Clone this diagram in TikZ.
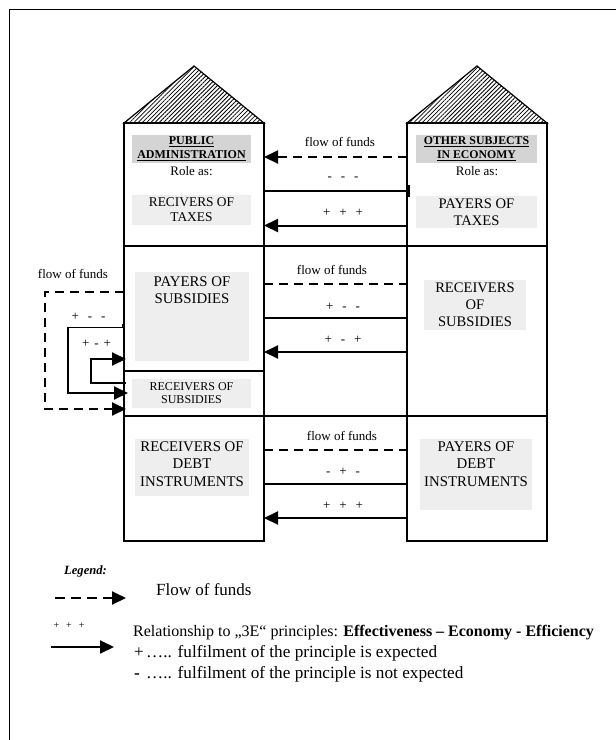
\documentclass[tikz,border=0pt]{standalone}
\usepackage{fontspec}
\setmainfont{Liberation Serif}
\usetikzlibrary{arrows.meta,patterns.meta}
\definecolor{hdr}{HTML}{D4D4D4}
\definecolor{lgt}{HTML}{EEEEEE}
\newcommand{\sgn}[3]{#1\hspace{9pt}#2\hspace{9pt}#3}
\newcommand{\sgs}[3]{#1\hspace{5pt}#2\hspace{5pt}#3}
\begin{document}
\begin{tikzpicture}[x=1pt,y=-1pt,
  wall/.style={line width=1.3pt},
  bld/.style={draw, line width=1.3pt, minimum width=140pt, minimum height=418pt, anchor=north west, inner sep=0pt, outer sep=0pt},
  roof/.style={draw, line width=1.2pt, line join=miter, pattern={Lines[angle=45,distance=3pt,line width=0.8pt]}},
  flowline/.style={line width=2pt, dash pattern=on 9pt off 6pt},
  legflow/.style={line width=2pt, dash pattern=on 10pt off 6pt},
  relline/.style={line width=2pt},
  tipl/.style={-{Triangle[length=14pt,width=13pt]}},
  shadebox/.style={fill=lgt, draw=none, inner sep=0pt},
  hdrbox/.style={fill=hdr, draw=none, inner sep=0pt},
  lbl/.style={inner sep=0pt, align=center},
]
\useasboundingbox (0,0) rectangle (616,740);
\coordinate (bTL) at (9,9);
\coordinate (bTR) at (616,9);
\coordinate (bBL) at (9,740);
\draw[line width=1pt] (bBL) -- (bTL) -- (bTR);

% buildings
\node[bld] (PA) at (124,123) {};
\node[bld] (OS) at (407,123) {};
\coordinate (apexL) at (194,66);
\coordinate (apexR) at (477,66);
\draw[roof] (PA.north west) -- (apexL) -- (PA.north east) -- cycle;
\draw[roof] (OS.north west) -- (apexR) -- (OS.north east) -- cycle;

% dividers
\coordinate (h1) at (0,246);
\coordinate (h2) at (0,416);
\coordinate (h3) at (0,371);
\draw[wall] (PA.west |- h1) -- (OS.east |- h1);
\draw[wall] (PA.west |- h2) -- (OS.east |- h2);
\draw[wall] (PA.west |- h3) -- (PA.east |- h3);

% left building content
\node[hdrbox, minimum width=119pt, minimum height=28pt, lbl, font=\fontsize{12}{14}\selectfont\bfseries] (pah) at (191.5,149) {\underline{PUBLIC}\\\underline{ADMINISTRATION}};
\node[lbl, font=\fontsize{13}{15}\selectfont] (par) at (191.5,171) {Role as:};
\node[shadebox, lbl, minimum width=119pt, minimum height=30pt, font=\fontsize{13.4}{15}\selectfont] (pat) at (191.5,210) {RECIVERS OF\\TAXES};
\node[shadebox, minimum width=114pt, minimum height=89pt] (psbg) at (192,316.5) {};
\node[lbl, font=\fontsize{14.8}{17}\selectfont] (ps) at (192,290) {PAYERS OF\\SUBSIDIES};
\node[shadebox, lbl, minimum width=119pt, minimum height=29pt, font=\fontsize{12}{13}\selectfont] (prs) at (191.5,393.5) {RECEIVERS OF\\SUBSIDIES};
\node[shadebox, minimum width=114pt, minimum height=57pt] (pdbg) at (192,467.5) {};
\node[lbl, font=\fontsize{14.8}{17.5}\selectfont] (pd) at (192,464) {RECEIVERS OF\\DEBT\\INSTRUMENTS};

% right building content
\node[hdrbox, minimum width=121pt, minimum height=28pt, lbl, font=\fontsize{11.8}{14}\selectfont\bfseries] (osh) at (476.5,149) {\underline{OTHER SUBJECTS}\\\underline{IN ECONOMY}};
\node[lbl, font=\fontsize{13}{15}\selectfont] (osr) at (477,171) {Role as:};
\node[shadebox, lbl, minimum width=121pt, minimum height=32pt, font=\fontsize{14.6}{17}\selectfont] (ost) at (476.5,212) {PAYERS OF\\TAXES};
\node[shadebox, lbl, minimum width=102pt, minimum height=50pt, font=\fontsize{14.6}{17}\selectfont] (oss) at (475,305) {RECEIVERS\\OF\\SUBSIDIES};
\node[shadebox, minimum width=112pt, minimum height=71pt] (osdbg) at (476,474.5) {};
\node[lbl, font=\fontsize{14.8}{17.5}\selectfont] (osd) at (476,464) {PAYERS OF\\DEBT\\INSTRUMENTS};

% middle connectors
\coordinate (t1) at (0,157);
\coordinate (t2) at (0,190.5);
\coordinate (t3) at (0,225.5);
\coordinate (s1) at (0,284);
\coordinate (s2) at (0,318);
\coordinate (s3) at (0,352);
\coordinate (d1) at (0,450);
\coordinate (d2) at (0,484);
\coordinate (d3) at (0,518);

\draw[flowline, tipl] (OS.west |- t1) -- (PA.east |- t1);
\draw[relline] (PA.east |- t2) -- (OS.west |- t2);
\coordinate (barA) at (408.5,184.5);
\coordinate (barB) at (408.5,197);
\draw[line width=3.2pt] (barA) -- (barB);
\draw[relline, tipl] (OS.west |- t3) -- (PA.east |- t3);

\draw[flowline] (PA.east |- s1) -- (OS.west |- s1);
\draw[relline] (PA.east |- s2) -- (OS.west |- s2);
\draw[relline, tipl] (OS.west |- s3) -- (PA.east |- s3);

\draw[flowline] (PA.east |- d1) -- (OS.west |- d1);
\draw[relline] (PA.east |- d2) -- (OS.west |- d2);
\draw[relline, tipl] (OS.west |- d3) -- (PA.east |- d3);

\node[lbl, font=\fontsize{13}{15}\selectfont] (lt1) at (340,142) {flow of funds};
\node[lbl, font=\fontsize{13}{15}\selectfont] (lt2) at (343,179) {\sgn{-}{-}{-}};
\node[lbl, font=\fontsize{13}{15}\selectfont] (lt3) at (343,213) {\sgn{+}{+}{+}};
\node[lbl, font=\fontsize{13}{15}\selectfont] (ls1) at (332,270) {flow of funds};
\node[lbl, font=\fontsize{13}{15}\selectfont] (ls2) at (343,307) {\sgn{+}{-}{-}};
\node[lbl, font=\fontsize{13}{15}\selectfont] (ls3) at (343,340) {\sgn{+}{-}{+}};
\node[lbl, font=\fontsize{13}{15}\selectfont] (ld1) at (342,436) {flow of funds};
\node[lbl, font=\fontsize{13}{15}\selectfont] (ld2) at (343,472) {\sgn{-}{+}{-}};
\node[lbl, font=\fontsize{13}{15}\selectfont] (ld3) at (343,506) {\sgn{+}{+}{+}};

% left loops
\node[lbl, font=\fontsize{13}{15}\selectfont] (lf) at (73,274) {flow of funds};
\coordinate (fA) at (124,292);
\coordinate (fB) at (45,292);
\coordinate (fC) at (45,409);
\coordinate (fD) at (126,409);
\draw[flowline, tipl] (fA) -- (fB) -- (fC) -- (fD);

\node[lbl, font=\fontsize{13}{15}\selectfont] (lm) at (88.5,317) {\sgn{+}{-}{-}};
\coordinate (mA) at (123,327);
\coordinate (mB) at (68,327);
\coordinate (mC) at (68,393);
\coordinate (mD) at (128,393);
\draw[line width=1pt] (mA) -- (mB);
\coordinate (mT1) at (123,324);
\coordinate (mT2) at (123,328);
\draw[line width=1.5pt] (mT1) -- (mT2);
\draw[relline, tipl] (mB) -- (mC) -- (mD);

\node[lbl, font=\fontsize{13}{15}\selectfont] (li) at (96.5,344) {\sgs{+}{-}{+}};
\coordinate (iA) at (126,383);
\coordinate (iB) at (91,383);
\coordinate (iC) at (91,359);
\coordinate (iD) at (126,359);
\draw[relline, tipl] (iA) -- (iB) -- (iC) -- (iD);

% legend
\node[lbl, anchor=west, font=\fontsize{12.6}{14}\selectfont\bfseries\itshape] (leg) at (64,571) {Legend:};
\coordinate (lgA) at (55,598);
\coordinate (lgB) at (126,598);
\draw[legflow, tipl] (lgA) -- (lgB);
\node[lbl, anchor=west, font=\fontsize{17}{19}\selectfont] (lgf) at (156,590) {Flow of funds};
\node[lbl, font=\fontsize{10}{12}\selectfont] (lgs) at (69,626) {+\hspace{7pt}+\hspace{7pt}+};
\coordinate (lrA) at (51,647);
\coordinate (lrB) at (114,647);
\draw[relline, tipl] (lrA) -- (lrB);
\node[lbl, anchor=west, font=\fontsize{16}{18}\selectfont] (lr1) at (133,633) {Relationship to „3E“ principles: \textbf{Effectiveness – Economy - Efficiency}};
\node[lbl, anchor=west, font=\fontsize{17.2}{19}\selectfont] (lr2) at (134,653) {\makebox[12pt][l]{+}….. fulfilment of the principle is expected};
\node[lbl, anchor=west, font=\fontsize{17.2}{19}\selectfont] (lr3) at (134,674) {\makebox[12pt][l]{\textbf{-}}….. fulfilment of the principle is not expected};
\end{tikzpicture}
\end{document}
